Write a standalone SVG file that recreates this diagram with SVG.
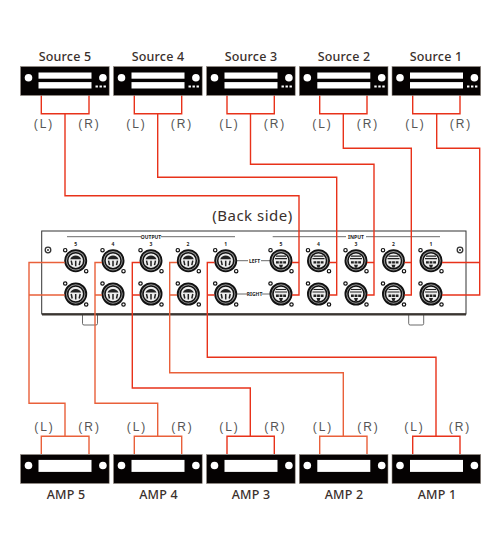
<svg xmlns="http://www.w3.org/2000/svg" width="500" height="550" viewBox="0 0 500 550">
<style>
text{font-family:"Noto Sans","Liberation Sans",sans-serif;fill:#3a302c;text-anchor:middle}
.name{font-size:12.500px;font-weight:500;letter-spacing:.2px}
.lr{font-family:"Liberation Sans",sans-serif;font-size:12px;fill:#555;letter-spacing:2px}
.tiny{font-size:5px;font-weight:700;fill:#222}
.wire{fill:none;stroke:#e8321a;stroke-width:1.400}
.or{stroke:#e9603a}
.panel{fill:#fff;stroke:#333;stroke-width:1}
.thin{fill:none;stroke:#444;stroke-width:.8}
</style>
<defs>
<g id="srcbox">
<rect x="0" y="0" width="88.700" height="29" fill="#050202" stroke="#9a9088" stroke-width=".6"/>
<rect x="18" y="6" width="53" height="6.200" fill="#fff"/>
<rect x="18" y="15.600" width="53" height="6.400" fill="#fff"/>
<circle cx="8" cy="11.200" r="3.800" fill="#fff"/>
<circle cx="82.400" cy="11.200" r="3.800" fill="#fff"/>
<path d="M75 19h2.400v2H75zM79 19h2.400v2H79zM83 19h2.400v2H83z" fill="#fff"/>
</g>
<g id="ampbox">
<rect x="0" y="0" width="88.700" height="29" fill="#050202" stroke="#9a9088" stroke-width=".6"/>
<rect x="18" y="5.400" width="53" height="12" fill="#fff"/>
<circle cx="8" cy="11" r="3.800" fill="#fff"/>
<circle cx="82.400" cy="11" r="3.800" fill="#fff"/>
</g>
<g id="xlr">
<circle r="10.600" fill="#999" stroke="#111" stroke-width="1.800"/>
<circle r="8" fill="#eee" stroke="#111" stroke-width="1.500"/>
<path d="M-5.500 -1.500a6 6 0 0 1 11 0z" fill="#222"/>
<path d="M-4.500 0l1 4.500M0 0v5.500M4.500 0l-1 4.500" stroke="#222" stroke-width="1.500"/>
<circle cx="-10.500" cy="-10.500" r="1.700" fill="#fff" stroke="#111" stroke-width="1.200"/>
<circle cx="10.500" cy="10.500" r="1.700" fill="#fff" stroke="#111" stroke-width="1.200"/>
</g>
<g id="xlrf">
<circle r="10.600" fill="#999" stroke="#111" stroke-width="1.800"/>
<circle r="8" fill="#eee" stroke="#111" stroke-width="1.500"/>
<path d="M-5 -4.500h10M-6 -2h12" stroke="#222" stroke-width="1.200"/>
<path d="M-5 .5h2.800v2.400h-2.800zM-1.400 .5h2.800v2.400h-2.800zM2.200 .5h2.800v2.400h-2.800zM-2 4h4l-1 3h-2z" fill="#222"/>
<circle cx="-10.500" cy="-10.500" r="1.700" fill="#fff" stroke="#111" stroke-width="1.200"/>
<circle cx="10.500" cy="10.500" r="1.700" fill="#fff" stroke="#111" stroke-width="1.200"/>
</g>
</defs>
<rect width="500" height="550" fill="#fff"/>

<g id="panel">
<path class="thin" d="M82.500 314v9.500q0 1.500 1.500 1.500h12q1.500 0 1.500-1.500V314M408.700 314v9.500q0 1.500 1.500 1.500h12q1.500 0 1.500-1.500V314"/>
<rect class="panel" x="41.700" y="231" width="424.300" height="83"/>
<path d="M42 314.300H466" stroke="#3a3530" stroke-width="2.200"/>
<circle cx="48" cy="250" r="2.800" fill="#fff" stroke="#333" stroke-width="1.300"/>
<circle cx="48" cy="250" r="1" fill="#333"/>
<circle cx="460" cy="250" r="2.800" fill="#fff" stroke="#333" stroke-width="1.300"/>
<circle cx="460" cy="250" r="1" fill="#333"/>
<path class="thin" d="M67 236.700H141M161 236.700H235M272.700 236.700H346M366 236.700H440M237 260.700H248M261 260.700H270M237 294H247M262 294H270"/>
<text class="tiny" x="151" y="238.500">OUTPUT</text>
<text class="tiny" x="356" y="238.500">INPUT</text>
<text class="tiny" x="254.500" y="262.500">LEFT</text>
<text class="tiny" x="254.500" y="296">RIGHT</text>
<text class="tiny" x="75.700" y="246">5</text><text class="tiny" x="113" y="246">4</text><text class="tiny" x="151" y="246">3</text><text class="tiny" x="188" y="246">2</text><text class="tiny" x="225.700" y="246">1</text>
<text class="tiny" x="281" y="246">5</text><text class="tiny" x="318.500" y="246">4</text><text class="tiny" x="356" y="246">3</text><text class="tiny" x="393.500" y="246">2</text><text class="tiny" x="431" y="246">1</text>
<use href="#xlr" x="75.700" y="260.700"/><use href="#xlr" x="113" y="260.700"/><use href="#xlr" x="151" y="260.700"/><use href="#xlr" x="188.300" y="260.700"/><use href="#xlr" x="225.700" y="260.700"/>
<use href="#xlr" x="75.700" y="294"/><use href="#xlr" x="113" y="294"/><use href="#xlr" x="151" y="294"/><use href="#xlr" x="188.300" y="294"/><use href="#xlr" x="225.700" y="294"/>
<use href="#xlrf" x="281" y="260.700"/><use href="#xlrf" x="318.500" y="260.700"/><use href="#xlrf" x="356" y="260.700"/><use href="#xlrf" x="393.500" y="260.700"/><use href="#xlrf" x="431" y="260.700"/>
<use href="#xlrf" x="281" y="294"/><use href="#xlrf" x="318.500" y="294"/><use href="#xlrf" x="356" y="294"/><use href="#xlrf" x="393.500" y="294"/><use href="#xlrf" x="431" y="294"/>
</g>

<g id="connectors">
<path class="wire" d="M41.300 95V113.700H89V95M65 113.700V195.700H299V295H292M292 262.500H299"/>
<path class="wire" d="M134.300 95V113.700H181.700V95M157.700 113.700V177.300H336.700V295H329.500M329.500 262.500H336.700"/>
<path class="wire" d="M227 95V113.700H274.300V95M250.500 113.700V164.300H374V295H367M367 262.500H374"/>
<path class="wire" d="M319.700 95V113.700H367V95M343.300 113.700V148.300H411.300V295H404.500M404.500 262.500H411.300"/>
<path class="wire" d="M412.700 95V113.700H460V95M436.700 113.700V148.300H479.700V295H442M442 262.500H479.700"/>
<path class="wire or" d="M64.700 262.500H29V403.300H65V436.300M29 295H64.700M41.300 454V436.300H89V454"/>
<path class="wire or" d="M102 262.500H95V403.300H157.700V436.300M95 295H102M134.300 454V436.300H181.700V454"/>
<path class="wire" d="M140 262.500H132.300V388H250.300V436.300M132.300 295H140M227 454V436.300H274.300V454"/>
<path class="wire or" d="M177 262.500H169.700V372.700H343.300V436.300M169.700 295H177M319.700 454V436.300H367V454"/>
<path class="wire" d="M214.500 262.500H207.300V357.300H436V436.300M207.300 295H214.500M412.700 454V436.300H460V454"/>
</g>

<text id="back-side" x="252.500" y="221" style="font-size:15px;letter-spacing:.5px">(Back side)</text>

<g id="source5"><use href="#srcbox" x="20.500" y="66.500"/><text class="name" x="65" y="61">Source 5</text><text class="lr" x="44" y="128">(L)</text><text class="lr" x="89.500" y="128">(R)</text></g>
<g id="source4"><use href="#srcbox" x="113.500" y="66.500"/><text class="name" x="158" y="61">Source 4</text><text class="lr" x="136.500" y="128">(L)</text><text class="lr" x="182" y="128">(R)</text></g>
<g id="source3"><use href="#srcbox" x="206.500" y="66.500"/><text class="name" x="251" y="61">Source 3</text><text class="lr" x="229.500" y="128">(L)</text><text class="lr" x="275" y="128">(R)</text></g>
<g id="source2"><use href="#srcbox" x="299.300" y="66.500"/><text class="name" x="344" y="61">Source 2</text><text class="lr" x="322.500" y="128">(L)</text><text class="lr" x="368" y="128">(R)</text></g>
<g id="source1"><use href="#srcbox" x="392" y="66.500"/><text class="name" x="436" y="61">Source 1</text><text class="lr" x="415.500" y="128">(L)</text><text class="lr" x="461" y="128">(R)</text></g>

<g id="amp5"><use href="#ampbox" x="20.500" y="454.500"/><text class="name" x="66" y="499">AMP 5</text><text class="lr" x="44.500" y="431">(L)</text><text class="lr" x="89.700" y="431">(R)</text></g>
<g id="amp4"><use href="#ampbox" x="113.500" y="454.500"/><text class="name" x="158.500" y="499">AMP 4</text><text class="lr" x="137" y="431">(L)</text><text class="lr" x="182.500" y="431">(R)</text></g>
<g id="amp3"><use href="#ampbox" x="206.500" y="454.500"/><text class="name" x="251" y="499">AMP 3</text><text class="lr" x="229.500" y="431">(L)</text><text class="lr" x="275.500" y="431">(R)</text></g>
<g id="amp2"><use href="#ampbox" x="299.300" y="454.500"/><text class="name" x="344" y="499">AMP 2</text><text class="lr" x="323" y="431">(L)</text><text class="lr" x="368.500" y="431">(R)</text></g>
<g id="amp1"><use href="#ampbox" x="392" y="454.500"/><text class="name" x="437" y="499">AMP 1</text><text class="lr" x="414.500" y="431">(L)</text><text class="lr" x="460" y="431">(R)</text></g>
</svg>
